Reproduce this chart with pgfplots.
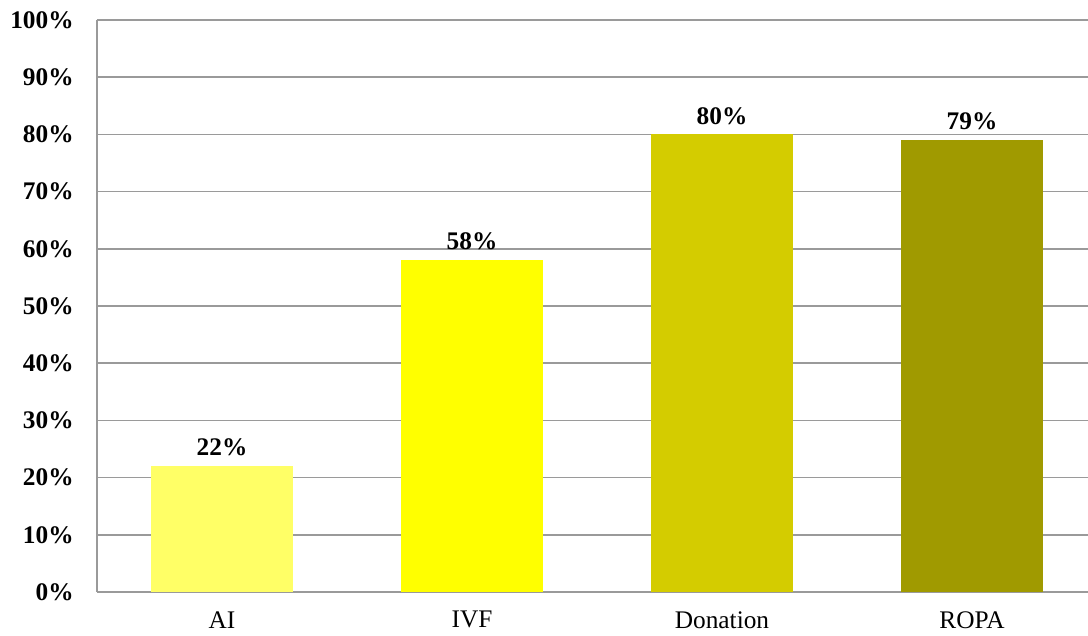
\documentclass[border=0pt]{standalone}
\usepackage{pgfplots}
\pgfplotsset{compat=1.18}
\usepackage{fontspec}
\setmainfont{Liberation Serif}
\definecolor{cAI}{HTML}{FFFF66}
\definecolor{cIVF}{HTML}{FFFF00}
\definecolor{cDon}{HTML}{D4CC00}
\definecolor{cROPA}{HTML}{A09A00}
\definecolor{gridc}{HTML}{9A9A9A}
\begin{document}
\begin{tikzpicture}
\begin{axis}[
  at={(0,0)}, anchor=south west,
  scale only axis,
  width=743.25pt, height=429pt,
  xmin=-0.5, xmax=3.464,
  ymin=0, ymax=100,
  ytick={0,10,...,100},
  xtick={0,1,2,3},
  xticklabels={AI,IVF,Donation,ROPA},
  major tick length=0pt,
  ymajorgrids,
  grid style={gridc, line width=1.2pt},
  axis x line*=bottom, axis y line*=left,
  axis line style={gridc, line width=1.6pt, -},
  /pgf/number format/assume math mode=true,
  yticklabel={\pgfmathprintnumber{\tick}\%},
  yticklabel style={font=\fontsize{19}{21}\selectfont\bfseries, xshift=-14pt},
  xticklabel style={font=\fontsize{19}{21}\selectfont, yshift=-11pt},
  ybar, bar width=106pt, bar shift=0pt,
  nodes near coords={\pgfmathprintnumber{\pgfplotspointmeta}\%},
  nodes near coords style={font=\fontsize{19}{21}\selectfont\bfseries, /pgf/number format/assume math mode=true, yshift=4pt},
  clip=false,
]
\addplot[fill=cAI, draw=none] coordinates {(0,22)};
\addplot[fill=cIVF, draw=none] coordinates {(1,58)};
\addplot[fill=cDon, draw=none] coordinates {(2,80)};
\addplot[fill=cROPA, draw=none] coordinates {(3,79)};
\end{axis}
\pgfresetboundingbox
\path[use as bounding box] (-72.75pt,-32.25pt) rectangle (743.25pt,444pt);
\end{tikzpicture}
\end{document}
